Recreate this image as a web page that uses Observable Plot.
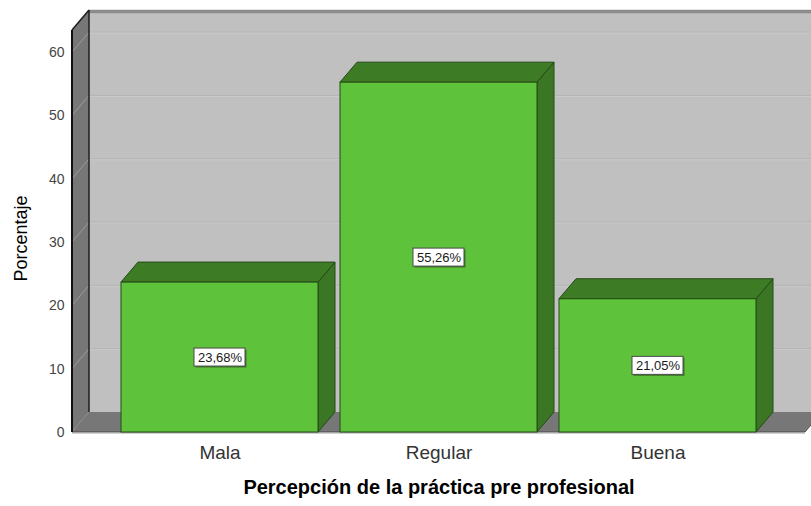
<!DOCTYPE html>
<html>
<head>
<meta charset="utf-8">
<script src="https://cdn.jsdelivr.net/npm/d3@7"></script>
<script src="https://cdn.jsdelivr.net/npm/@observablehq/plot@0.6"></script>
<style>
  body { margin: 0; background: #fff; }
  #chart svg { display: block; }
</style>
</head>
<body>
<div id="chart"></div>
<script>
// Percepción de la práctica pre profesional (porcentaje)
const categories = ["Mala", "Regular", "Buena"];
const percentages = [23.68, 55.26, 21.05];
const valueLabels = ["23,68%", "55,26%", "21,05%"];
const yTicks = [0, 10, 20, 30, 40, 50, 60];
const yMax = 63.5;
const yTitle = "Porcentaje";
const xTitle = "Percepción de la práctica pre profesional";

const data = categories.map((category, i) => ({
  category,
  pct: percentages[i],
  label: valueLabels[i]
}));

// depth of the pseudo-3D box, in pixels
const DX = 17, DY = -20;

const FONT = "'Liberation Sans', Arial, Helvetica, sans-serif";

function bandwidthOf(sx) {
  const bw = sx.bandwidth;
  return typeof bw === "function" ? bw.call(sx) : bw;
}

function polygon(g, pts, attrs) {
  const p = g.append("polygon").attr("points", pts.map(p => p.join(",")).join(" "));
  for (const k in attrs) p.attr(k, attrs[k]);
  return p;
}
function line(g, x1, y1, x2, y2, attrs) {
  const l = g.append("line").attr("x1", x1).attr("y1", y1).attr("x2", x2).attr("y2", y2);
  for (const k in attrs) l.attr(k, attrs[k]);
  return l;
}

// back wall, left wall, floor and gridlines
function chartBox(index, scales, values, dimensions) {
  const {y: sy} = scales;
  const {width, marginLeft, marginRight} = dimensions;
  const x0 = marginLeft, x1 = width - marginRight;
  const yb = sy(0), yt = sy(yMax);
  const g = d3.create("svg:g");

  // back wall
  g.append("rect")
    .attr("x", x0 + DX).attr("y", yt + DY)
    .attr("width", x1 - x0).attr("height", yb - yt)
    .attr("fill", "#c0c0c0");
  line(g, x0 + DX, yt + DY + 1.5, x1 + DX, yt + DY + 1.5, {stroke: "#8c8c8c", "stroke-width": 3.5});

  // gridlines on the back wall
  for (const v of yTicks) {
    if (v === 0) continue;
    line(g, x0 + DX, sy(v) + DY, x1 + DX, sy(v) + DY, {stroke: "#b4b4b4", "stroke-width": 1});
    line(g, x0 + DX, sy(v) + DY + 1, x1 + DX, sy(v) + DY + 1, {stroke: "#c9c9c9", "stroke-width": 1});
  }

  // left wall
  polygon(g, [[x0, yb], [x0, yt], [x0 + DX, yt + DY], [x0 + DX, yb + DY]], {fill: "#777777"});
  for (const v of yTicks) {
    line(g, x0, sy(v), x0 + DX, sy(v) + DY, {stroke: "#9c9c9c", "stroke-width": 1});
  }

  // floor
  polygon(g, [[x0, yb], [x1, yb], [x1 + DX, yb + DY], [x0 + DX, yb + DY]], {fill: "#777777"});
  line(g, x0, yb + 1.5, x1, yb + 1.5, {stroke: "#d0d0d0", "stroke-width": 1});
  line(g, x0, yb, x1, yb, {stroke: "#4a4a4a", "stroke-width": 1});

  // box edges
  line(g, x0 + DX, yt + DY, x0 + DX, yb + DY, {stroke: "#1e1e1e", "stroke-width": 1.5});
  line(g, x0, yt, x0 + DX, yt + DY, {stroke: "#1e1e1e", "stroke-width": 1.5});
  line(g, x0, yt, x0, yb, {stroke: "#111", "stroke-width": 2});
  line(g, x1, yb, x1 + DX, yb + DY, {stroke: "#555", "stroke-width": 1});
  return g.node();
}

// top and side faces of each bar
function barDepth(index, scales, values, dimensions) {
  const {x: sx, y: sy} = scales;
  const bw = bandwidthOf(sx);
  const g = d3.create("svg:g");
  const edge = {stroke: "#244a16", "stroke-width": 1, "stroke-linejoin": "round"};
  for (const d of data) {
    const bx = sx(d.category), yt = sy(d.pct), yb = sy(0);
    polygon(g, [[bx + bw, yt], [bx + bw + DX, yt + DY], [bx + bw + DX, yb + DY], [bx + bw, yb]],
      {fill: "#3a7623", ...edge});
    polygon(g, [[bx, yt], [bx + bw, yt], [bx + bw + DX, yt + DY], [bx + DX, yt + DY]],
      {fill: "#3d7b25", ...edge});
  }
  return g.node();
}

// white boxes behind the value labels
function labelBoxes(index, scales, values, dimensions) {
  const {x: sx, y: sy} = scales;
  const bw = bandwidthOf(sx);
  const g = d3.create("svg:g");
  const w = 51, h = 18;
  for (const d of data) {
    const cx = sx(d.category) + bw / 2, cy = sy(d.pct / 2);
    g.append("rect").attr("x", cx - w / 2 + 1.5).attr("y", cy - h / 2 + 1.5)
      .attr("width", w).attr("height", h).attr("fill", "#2f5a20").attr("opacity", 0.7);
    g.append("rect").attr("x", cx - w / 2).attr("y", cy - h / 2)
      .attr("width", w).attr("height", h)
      .attr("fill", "#ffffff").attr("stroke", "#4a4a4a").attr("stroke-width", 1);
  }
  return g.node();
}

const chart = Plot.plot({
  width: 811,
  height: 506,
  marginLeft: 72,
  marginRight: 6,
  marginTop: 30,
  marginBottom: 74,
  style: {fontFamily: FONT, background: "#ffffff", overflow: "hidden"},
  x: {domain: categories, paddingInner: 0.1, paddingOuter: 0.22, align: 0.5},
  y: {domain: [0, yMax]},
  marks: [
    chartBox,
    barDepth,
    Plot.barY(data, {x: "category", y: "pct", fill: "#5ec23a", stroke: "#244a16", strokeWidth: 1}),
    labelBoxes,
    Plot.text(data, {x: "category", y: d => d.pct / 2, text: "label", fontSize: 13, fill: "#1a1a1a"}),
    Plot.axisY({ticks: yTicks, tickSize: 0, tickPadding: 8, fontSize: 14, color: "#444", label: null}),
    Plot.axisX({tickSize: 0, tickPadding: 13, fontSize: 19, color: "#333", label: null}),
    Plot.text([yTitle], {frameAnchor: "left", textAnchor: "middle", rotate: -90, dx: -51, dy: 7, fontSize: 18, fill: "#000"}),
    Plot.text([xTitle], {frameAnchor: "bottom", dy: 61, fontSize: 20, fontWeight: "bold", fill: "#000"})
  ]
});

document.getElementById("chart").appendChild(chart);
</script>
</body>
</html>
